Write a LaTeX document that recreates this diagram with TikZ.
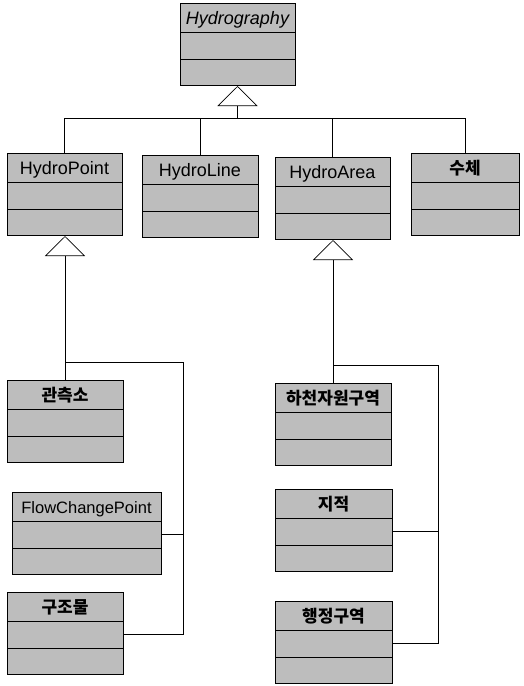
\documentclass[tikz,border=0pt]{standalone}
\usepackage{fontspec}
\setmainfont{Liberation Sans}
\newfontfamily\krfont{Noto Sans CJK KR}
\usetikzlibrary{arrows.meta,calc,shapes.multipart}
\definecolor{ClassClr}{rgb}{0.74,0.74,0.74}
\newcommand\umlparts[1]{\rule[-8pt]{0pt}{28pt}#1\nodepart{two}\rule{0pt}{25.5pt}\nodepart{three}\rule{0pt}{25.5pt}}
\newcommand\kr[1]{{\krfont\bfseries\fontsize{17}{20}\selectfont #1}}

\begin{document}
\begin{tikzpicture}[x=1pt,y=-1pt,
  cls/.style={rectangle split,rectangle split parts=3,draw,line width=1pt,fill=ClassClr,
    anchor=north,text width=#1,align=center,inner xsep=4pt,inner ysep=0pt,
    font=\fontsize{18}{21}\selectfont},
  wire/.style={line width=0.7pt},
  gen/.style={line width=0.7pt,-{Triangle[open,length=20pt,width=40pt]}}]
\useasboundingbox (0,0) rectangle (524,686);

% classes
\node[cls=107pt] (hydro) at (237.5,3) {\umlparts{\itshape Hydrography}};
\node[cls=107pt] (hpoint) at (64.5,153) {\umlparts{HydroPoint}};
\node[cls=108pt] (hline) at (200,155) {\umlparts{HydroLine}};
\node[cls=107pt] (harea) at (332.5,157) {\umlparts{HydroArea}};
\node[cls=100pt] (water) at (465,153) {\umlparts{\kr{수체}}};

\node[cls=108pt] (gauge) at (65,380) {\umlparts{\kr{관측소}}};
\node[cls=141pt] (flow) at (86.5,492) {\umlparts{\fontsize{16.5}{20}\selectfont FlowChangePoint}};
\node[cls=108pt] (struct) at (65,592) {\umlparts{\kr{구조물}}};

\node[cls=108pt] (river) at (333,383) {\umlparts{\kr{하천자원구역}}};
\node[cls=109pt] (cadas) at (333.5,489) {\umlparts{\kr{지적}}};
\node[cls=109pt] (admin) at (333.5,601) {\umlparts{\kr{행정구역}}};

% bends
\coordinate (topbus) at (237.5,118);
\coordinate (lbend) at (183,362);
\coordinate (rbend) at (438,365);
\coordinate (flowmid) at ($(flow.text split east)!.5!(flow.two split east)$);
\coordinate (structmid) at ($(struct.text split east)!.5!(struct.two split east)$);
\coordinate (cadasmid) at ($(cadas.text split east)!.5!(cadas.two split east)$);
\coordinate (adminmid) at ($(admin.text split east)!.5!(admin.two split east)$);

% top level
\draw[gen] (topbus) -- (hydro.south);
\draw[wire] (hpoint.north) -- (hpoint.north |- topbus) -- (water.north |- topbus) -- (water.north);
\draw[wire] (hline.north) -- (hline.north |- topbus);
\draw[wire] (harea.north) -- (harea.north |- topbus);

% HydroPoint
\draw[gen] (gauge.north) -- (gauge.north |- hpoint.south);
\draw[wire] (gauge.north |- lbend) -- (lbend) |- (structmid);
\draw[wire] (flowmid) -- (flowmid -| lbend);

% HydroArea
\draw[gen] (river.north) -- (river.north |- harea.south);
\draw[wire] (river.north |- rbend) -- (rbend) |- (adminmid);
\draw[wire] (cadasmid) -- (cadasmid -| rbend);

\end{tikzpicture}
\end{document}
